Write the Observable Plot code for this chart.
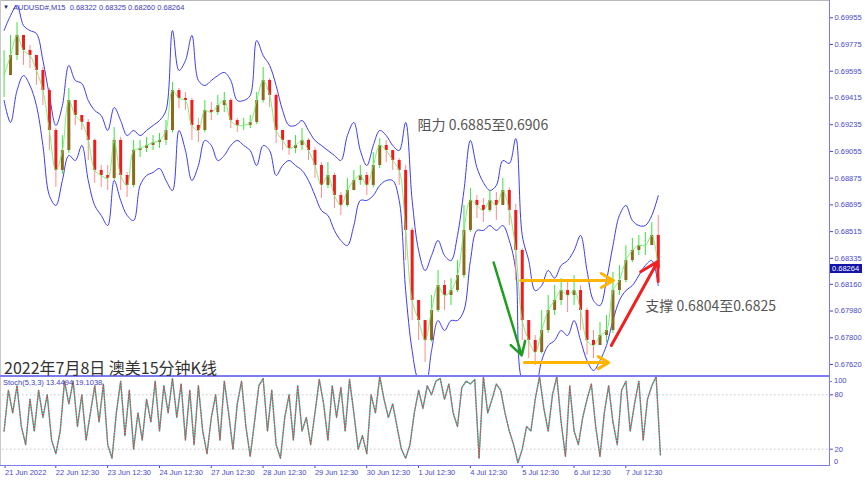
<!DOCTYPE html>
<html><head><meta charset="utf-8">
<script src="https://cdn.jsdelivr.net/npm/d3@7"></script>
<script src="https://cdn.jsdelivr.net/npm/@observablehq/plot@0.6"></script>
<style>
body{margin:0;background:#fff;font-family:"Liberation Sans",Arial,sans-serif}
#wrap{position:relative;width:865px;height:480px;overflow:hidden;background:#fff}
#main,#osc{position:absolute;left:0}
#main{top:0}#osc{top:376px}
.ov{position:absolute;white-space:nowrap;line-height:1}
.ln{position:absolute;background:#7c7cf0}
</style></head><body>
<div id="wrap"><div id="main"></div><div id="osc"></div></div>
<script>
// ---- data: AUDUSD M15, sampled every 12 bars from the first bar (21 Jun 2022) ----
const step = 12;
const closes = [
0.69566,0.69701,0.69836,0.69735,0.69701,0.69600,0.69465,0.69196,0.68927,0.69061,
0.69398,0.69297,0.69250,0.69129,0.68927,0.68893,0.68873,0.69129,0.68893,0.68826,
0.69061,0.69075,0.69095,0.69115,0.69129,0.69196,0.69465,0.69412,0.69398,0.69230,
0.69196,0.69331,0.69317,0.69364,0.69398,0.69263,0.69230,0.69230,0.69250,0.69398,
0.69533,0.69432,0.69196,0.69129,0.69075,0.69095,0.69129,0.69061,0.68960,0.68826,
0.68893,0.68758,0.68691,0.68792,0.68859,0.68893,0.68826,0.68960,0.69095,0.69061,
0.68994,0.68927,0.68523,0.68051,0.67916,0.67782,0.67984,0.68152,0.68085,0.68118,
0.68219,0.68523,0.68725,0.68691,0.68657,0.68725,0.68691,0.68792,0.68657,0.68388,
0.67916,0.67782,0.67701,0.67849,0.67984,0.68051,0.68118,0.68085,0.68118,0.67984,
0.67782,0.67748,0.67815,0.67849,0.68118,0.68186,0.68320,0.68388,0.68421,0.68421,
0.68489,0.68264];
const highs = [
0.69735,0.69836,0.69923,0.69836,0.69768,0.69701,0.69620,0.69480,0.69210,0.69162,
0.69479,0.69398,0.69297,0.69270,0.69140,0.68960,0.68960,0.69216,0.69150,0.68913,
0.69129,0.69129,0.69149,0.69162,0.69176,0.69263,0.69519,0.69479,0.69452,0.69410,
0.69277,0.69398,0.69385,0.69432,0.69452,0.69410,0.69277,0.69277,0.69297,0.69452,
0.69620,0.69545,0.69445,0.69196,0.69129,0.69162,0.69209,0.69142,0.69080,0.68980,
0.68980,0.68910,0.68778,0.68873,0.68927,0.68960,0.68913,0.69048,0.69142,0.69129,
0.69061,0.69007,0.68960,0.68540,0.68051,0.67916,0.68085,0.68253,0.68186,0.68199,
0.68320,0.68691,0.68805,0.68758,0.68738,0.68792,0.68778,0.68873,0.68810,0.68700,
0.68400,0.67916,0.67815,0.67984,0.68085,0.68152,0.68199,0.68186,0.68219,0.68150,
0.68000,0.67849,0.67903,0.67950,0.68240,0.68287,0.68421,0.68469,0.68489,0.68509,
0.68576,0.68624];
const lows = [
0.69418,0.69566,0.69667,0.69634,0.69614,0.69499,0.69364,0.69061,0.68812,0.68900,
0.69040,0.69230,0.69196,0.68994,0.68839,0.68812,0.68792,0.68860,0.68792,0.68745,
0.68810,0.69014,0.69048,0.69061,0.69075,0.69095,0.69180,0.69344,0.69331,0.69129,
0.69115,0.69180,0.69263,0.69297,0.69317,0.69209,0.69183,0.69196,0.69209,0.69235,
0.69380,0.69351,0.69108,0.69061,0.69028,0.69041,0.69061,0.68994,0.68873,0.68738,
0.68805,0.68671,0.68624,0.68680,0.68792,0.68826,0.68758,0.68810,0.68940,0.68980,
0.68927,0.68826,0.68320,0.67916,0.67782,0.67633,0.67770,0.67970,0.67984,0.68017,
0.68105,0.68200,0.68510,0.68603,0.68576,0.68644,0.68590,0.68691,0.68556,0.68186,
0.67782,0.67660,0.67613,0.67690,0.67830,0.67950,0.68017,0.67970,0.68017,0.67849,
0.67681,0.67660,0.67748,0.67768,0.67830,0.68085,0.68170,0.68307,0.68354,0.68354,
0.68421,0.68253];
const bbUpper = [
0.69869,0.69970,0.70038,0.69903,0.69869,0.69849,0.69667,0.69432,0.69230,0.69364,
0.69634,0.69533,0.69513,0.69398,0.69331,0.69297,0.69196,0.69351,0.69263,0.69162,
0.69196,0.69162,0.69196,0.69230,0.69263,0.69331,0.69869,0.69600,0.69667,0.69836,
0.69533,0.69499,0.69533,0.69566,0.69587,0.69533,0.69398,0.69398,0.69432,0.69802,
0.69701,0.69634,0.69499,0.69331,0.69230,0.69230,0.69263,0.69196,0.69129,0.69095,
0.69061,0.69028,0.68994,0.69162,0.69250,0.69061,0.68960,0.69095,0.69196,0.69162,
0.69095,0.69061,0.69250,0.68725,0.68388,0.68253,0.68354,0.68455,0.68354,0.68320,
0.68489,0.68792,0.69129,0.68947,0.68846,0.68792,0.68826,0.68994,0.68974,0.69142,
0.68489,0.68320,0.68118,0.68152,0.68253,0.68202,0.68287,0.68320,0.68388,0.68489,
0.68253,0.68051,0.68017,0.68186,0.68421,0.68624,0.68691,0.68590,0.68556,0.68556,
0.68624,0.68758];
const bbLower = [
0.69398,0.69250,0.69465,0.69566,0.69499,0.69364,0.69095,0.68758,0.68691,0.68859,
0.69028,0.68994,0.69095,0.68859,0.68691,0.68624,0.68556,0.68859,0.68725,0.68624,
0.68590,0.68826,0.68893,0.68913,0.68940,0.68859,0.68792,0.69196,0.69061,0.68859,
0.68960,0.69129,0.69095,0.68994,0.69028,0.69095,0.69129,0.69095,0.69061,0.68960,
0.69095,0.69061,0.68893,0.68960,0.68994,0.68960,0.68927,0.68859,0.68758,0.68657,
0.68624,0.68523,0.68455,0.68421,0.68556,0.68725,0.68725,0.68758,0.68826,0.68859,
0.68859,0.68725,0.68118,0.67714,0.67512,0.67478,0.67714,0.67916,0.67849,0.67916,
0.67916,0.67984,0.68320,0.68523,0.68523,0.68556,0.68523,0.68556,0.68455,0.68253,
0.67512,0.67478,0.67478,0.67647,0.67748,0.67782,0.67849,0.67815,0.67916,0.67782,
0.67647,0.67580,0.67647,0.67748,0.67916,0.68051,0.68118,0.68152,0.68219,0.68287,
0.68320,0.68152];
// Stochastic(5,3,3) main line, sampled every 8 bars
const stochStep = 8;
const stochMain = [
40,85,60,90,45,25,75,40,85,55,
80,30,15,40,95,70,95,45,80,30,
60,90,50,92,25,10,60,95,35,85,
20,60,30,75,50,95,40,90,60,98,
55,92,30,85,25,90,40,15,55,80,
30,95,60,20,70,95,45,12,50,90,
98,40,85,25,10,55,80,30,90,40,
55,25,60,97,70,30,90,55,88,40,
97,60,20,35,15,80,60,100,75,55,
70,45,20,10,25,60,85,65,90,80,
95,98,75,92,60,45,88,95,92,97,
10,100,60,75,92,85,60,40,25,5,
20,45,40,75,100,65,40,80,100,50,
12,90,40,25,55,75,92,45,12,60,
90,50,25,85,95,40,70,95,30,75,
90,100,13.45];
const stochLevels = [80, 20];
const stochBounds = [100, 0];
const priceTicks = [0.69955,0.69775,0.69595,0.69415,0.69235,0.69055,0.68875,0.68695,0.68515,0.68335,0.68160,0.67980,0.67800,0.67620];
const timeTickBars = [0,94,190,286,382,478,574,670,766,862,958,1054,1150];
const timeTickLabels = ["21 Jun 2022","22 Jun 12:30","23 Jun 12:30","24 Jun 12:30","27 Jun 12:30","28 Jun 12:30","29 Jun 12:30","30 Jun 12:30","1 Jul 12:30","4 Jul 12:30","5 Jul 12:30","6 Jul 12:30","7 Jul 12:30"];
const lastQuote = {open:0.68322, high:0.68325, low:0.68260, close:0.68264};
const stochLast = {main: 13.4494, signal: 19.1038};
// annotations (bar index, price)
const resistanceNote = [{bar:766, price:0.69230, text:"阻力 0.6885至0.6906"}];
const supportNote = [{bar:1188, price:0.68011, text:"支撑 0.6804至0.6825"}];
const greenArrow = [{x1:907, y1:0.68307, x2:959, y2:0.67681}];
const redArrow = [{x1:1125, y1:0.67748, x2:1211, y2:0.68314}];
const rangeTop = [{x1:957, y1:0.68186, x2:1129, y2:0.68186}];
const rangeBottom = [{x1:964, y1:0.67633, x2:1120, y2:0.67633}];

const rows = closes.map((c, i) => ({bar: i * step, open: i ? closes[i - 1] : c, close: c, high: highs[i], low: lows[i], up: bbUpper[i], lo: bbLower[i]}));
const bulls = rows.filter(d => d.close >= d.open);
const bears = rows.filter(d => d.close < d.open);
const xDomain = [-2.9, 1529.2];
const axisColor = "#4848c8";
const cjk = "'Noto Sans CJK SC','Noto Sans',sans-serif";

const main = Plot.plot({
  width: 865, height: 376, marginLeft: 2, marginRight: 36, marginTop: 2, marginBottom: 1,
  x: {domain: xDomain, axis: null},
  y: {domain: [0.67546, 0.70058], axis: null},
  style: {fontFamily: "'Liberation Sans',Arial,sans-serif", overflow: "visible", background: "transparent"},
  marks: [
    Plot.line(rows, {x: "bar", y: "up", stroke: "#3c3cf2", strokeWidth: 1, curve: "catmull-rom", clip: true}),
    Plot.line(rows, {x: "bar", y: "lo", stroke: "#3c3cf2", strokeWidth: 1, curve: "catmull-rom", clip: true}),
    Plot.ruleX(bulls, {x: "bar", y1: "low", y2: "high", stroke: "#3ee03e", strokeWidth: 1}),
    Plot.ruleX(bears, {x: "bar", y1: "low", y2: "high", stroke: "#ff8c8c", strokeWidth: 1}),
    Plot.ruleX(bulls, {x: "bar", y1: "open", y2: "close", stroke: "#8c6a1c", strokeWidth: 3}),
    Plot.ruleX(bears, {x: "bar", y1: "open", y2: "close", stroke: "#ee1c1c", strokeWidth: 3}),
    Plot.line(rows, {x: "bar", y: "close", stroke: "#6cf06c", strokeWidth: 1, curve: "catmull-rom", strokeOpacity: 0.9}),
    Plot.arrow(greenArrow, {x1: "x1", y1: "y1", x2: "x2", y2: "y2", stroke: "#1e9e1e", strokeWidth: 2.5, headLength: 9}),
    Plot.arrow(redArrow, {x1: "x1", y1: "y1", x2: "x2", y2: "y2", stroke: "#f02020", strokeWidth: 3, headLength: 10}),
    Plot.arrow(rangeTop, {x1: "x1", y1: "y1", x2: "x2", y2: "y2", stroke: "#ffb400", strokeWidth: 3, headLength: 7}),
    Plot.arrow(rangeBottom, {x1: "x1", y1: "y1", x2: "x2", y2: "y2", stroke: "#ffb400", strokeWidth: 3, headLength: 6}),
    Plot.text(resistanceNote, {x: "bar", y: "price", text: "text", textAnchor: "start", fontSize: 14, fill: "#555", fontFamily: cjk}),
    Plot.text(supportNote, {x: "bar", y: "price", text: "text", textAnchor: "start", fontSize: 14, fill: "#555", fontFamily: cjk}),
    Plot.axisY(priceTicks, {anchor: "right", tickSize: 3, tickPadding: 2, fontSize: 7.5, color: axisColor, tickFormat: d3.format(".5f"), label: null})
  ]
});
document.getElementById("main").appendChild(main);

const srows = stochMain.map((v, j) => ({bar: j * stochStep, k: v}));
const labelOf = new Map(timeTickBars.map((b, i) => [b, timeTickLabels[i]]));
const osc = Plot.plot({
  width: 865, height: 104, marginLeft: 2, marginRight: 36, marginTop: 1, marginBottom: 15,
  x: {domain: xDomain, axis: null},
  y: {domain: [2, 99.1], axis: null},
  style: {fontFamily: "'Liberation Sans',Arial,sans-serif", overflow: "visible", background: "transparent"},
  marks: [
    Plot.ruleY(stochLevels, {stroke: "#c4c4c4", strokeDasharray: "1.5,2.5"}),
    Plot.line(srows, {x: "bar", y: "k", stroke: "#46d0c0", strokeWidth: 1.5, clip: true}),
    Plot.line(srows, {x: "bar", y: "k", stroke: "#d84040", strokeWidth: 1, strokeDasharray: "1.2,1.6", clip: true}),
    Plot.axisY(stochLevels, {anchor: "right", tickSize: 3, tickPadding: 2, fontSize: 7.5, color: axisColor, label: null}),
    Plot.axisX(timeTickBars, {anchor: "bottom", tickSize: 3, tickPadding: 1, fontSize: 7.5, color: axisColor, textAnchor: "start", dx: 1, tickFormat: d => labelOf.get(d), label: null})
  ]
});
document.getElementById("osc").appendChild(osc);

// overlays: frame lines, header, title, price tag, bound labels
const wrap = document.getElementById("wrap");
function addLine(l, t, w, h, c) { const e = document.createElement("div"); e.className = "ln"; Object.assign(e.style, {left: l + "px", top: t + "px", width: w + "px", height: h + "px"}); if (c) e.style.background = c; wrap.appendChild(e); }
addLine(0, 0, 830, 1, "#b8b8b8");
addLine(0, 0, 1, 466, "#c8c8c8");
addLine(829, 0, 1, 466);
addLine(0, 374.5, 830, 2);
addLine(0, 464.5, 830, 1.5);
function addText(html, l, t, css) { const e = document.createElement("div"); e.className = "ov"; e.innerHTML = html; Object.assign(e.style, {left: l + "px", top: t + "px"}, css); wrap.appendChild(e); return e; }
addText("▼", 3, 4, {fontSize: "6px", color: "#202070"});
addText(`AUDUSD#,M15&nbsp; ${lastQuote.open.toFixed(5)} ${lastQuote.high.toFixed(5)} ${lastQuote.low.toFixed(5)} ${lastQuote.close.toFixed(5)}`, 13, 3.5, {fontSize: "7.5px", color: "#3c3cb8"});
addText("2022年7月8日 澳美15分钟K线", 4, 359, {fontSize: "16px", color: "#333", fontFamily: cjk});
addText(`Stoch(5,3,3) ${stochLast.main.toFixed(4)} ${stochLast.signal.toFixed(4)}`, 3, 379, {fontSize: "7.5px", color: "#4040c8"});
const yTag = main.scale("y").apply(lastQuote.close);
addText(lastQuote.close.toFixed(5), 830, yTag - 4.5, {fontSize: "7.5px", color: "#fff", background: "#1414a8", padding: "1px 2px", width: "28px"});
const sy = osc.scale("y");
const yTop = 376 + sy.apply(stochBounds[0]);
const yBot = 376 + sy.apply(stochBounds[1]);
addText(String(stochBounds[0]), 834, yTop + 1, {fontSize: "7.5px", color: axisColor});
addText(String(stochBounds[1]), 834, yBot - 9, {fontSize: "7.5px", color: axisColor});
addLine(829, yTop + 5, 3, 1);
</script>
</body></html>
